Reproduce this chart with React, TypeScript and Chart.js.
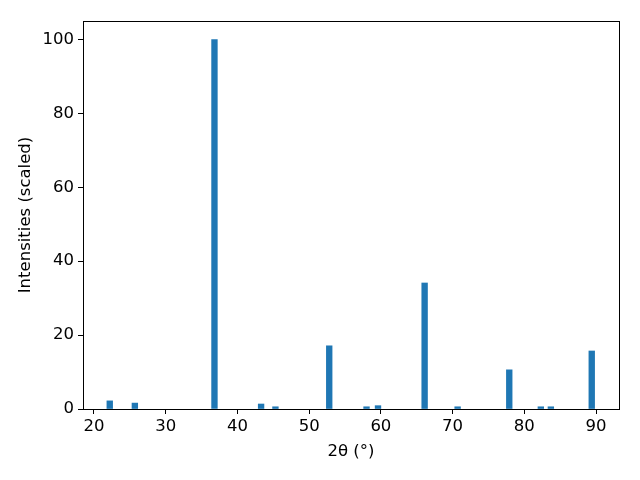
import React, { useEffect, useRef } from "react";
import { Chart, registerables } from "chart.js";

Chart.register(...registerables);

const twoTheta = [22.2, 25.7, 36.8, 43.3, 45.3, 52.8, 58.0, 59.6, 66.1, 70.7, 77.9, 82.3, 83.7, 89.4];
const intensities = [2.2, 1.6, 100, 1.35, 0.6, 17.1, 0.6, 0.9, 34.1, 0.6, 10.6, 0.6, 0.6, 15.7];
const xTicks = [20, 30, 40, 50, 60, 70, 80, 90];
const yTicks = [0, 20, 40, 60, 80, 100];

const FONT = "'DejaVu Sans', sans-serif";

const frame = {
  id: "frame",
  afterDraw(chart: any) {
    const { ctx, chartArea: a } = chart;
    ctx.save();
    ctx.strokeStyle = "#000";
    ctx.lineWidth = 1;
    ctx.strokeRect(Math.round(a.left) + 0.5, Math.round(a.top) + 0.5, Math.round(a.right - a.left), Math.round(a.bottom - a.top));
    ctx.restore();
  },
};

export default function App() {
  const ref = useRef<HTMLCanvasElement>(null);
  useEffect(() => {
    const chart = new Chart(ref.current!, {
      type: "bar",
      data: {
        datasets: [
          {
            data: twoTheta.map((x, i) => ({ x, y: intensities[i] })),
            backgroundColor: "#1f77b4",
            borderWidth: 0,
            barThickness: 5.7,
          },
        ],
      },
      options: {
        animation: false,
        responsive: false,
        layout: { padding: { left: 0, right: 21, top: 21, bottom: 0 } },
        plugins: { legend: { display: false }, tooltip: { enabled: false } },
        scales: {
          x: {
            type: "linear",
            offset: false,
            min: 18.47,
            max: 93.2,
            afterFit(s: any) { s.height = 71; },
            afterBuildTicks(s: any) { s.ticks = xTicks.map((v) => ({ value: v })); },
            grid: { offset: false, drawOnChartArea: false, drawTicks: true, tickLength: 5, color: "#000" },
            border: { display: true, color: "#000" },
            ticks: { color: "#000", font: { family: FONT, size: 16.5 }, padding: 3, maxRotation: 0 },
            title: { display: true, text: "2θ (°)", color: "#000", font: { family: FONT, size: 16.5 }, padding: { top: 0, bottom: 18 } },
          },
          y: {
            min: 0,
            max: 105,
            afterFit(s: any) { s.width = 83; },
            afterBuildTicks(s: any) { s.ticks = yTicks.map((v) => ({ value: v })); },
            grid: { offset: false, drawOnChartArea: false, drawTicks: true, tickLength: 5, color: "#000" },
            border: { display: true, color: "#000" },
            ticks: { color: "#000", font: { family: FONT, size: 16.5 }, padding: 4 },
            title: { display: true, text: "Intensities (scaled)", color: "#000", font: { family: FONT, size: 16.5 }, padding: { top: 16, bottom: 0 } },
          },
        },
      },
      plugins: [frame],
    });
    return () => chart.destroy();
  }, []);
  return (
    <canvas
      ref={ref}
      width={640}
      height={480}
      style={{ position: "fixed", left: 0, top: 0, width: 640, height: 480, background: "#fff" }}
    />
  );
}
